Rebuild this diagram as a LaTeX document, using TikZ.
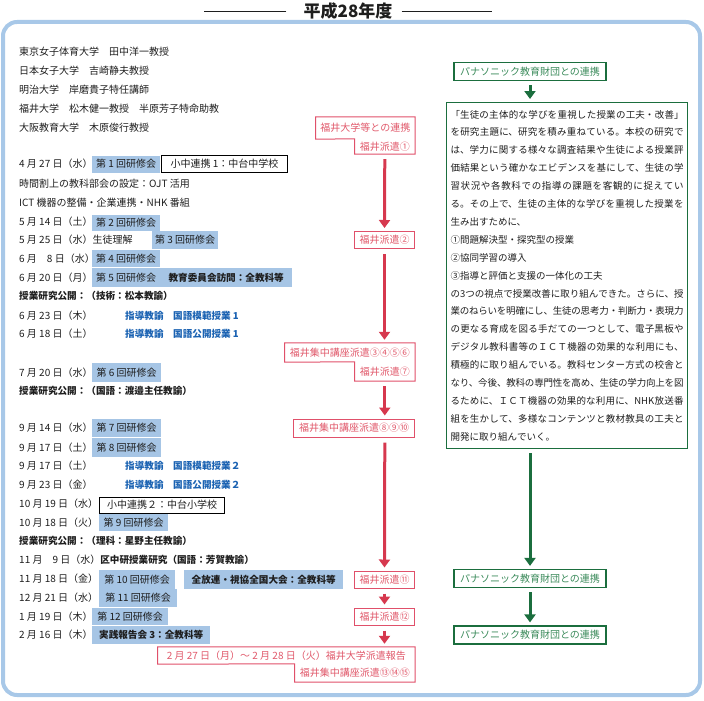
\documentclass[tikz,border=0pt]{standalone}
\usepackage{fontspec}
\setmainfont{Noto Sans CJK JP}
\usetikzlibrary{arrows.meta}

\definecolor{wakuao}{HTML}{A8C8E8}
\definecolor{hlao}{HTML}{A6C5E5}
\definecolor{akasen}{HTML}{E0506A}
\definecolor{akaji}{HTML}{E0586A}
\definecolor{akaya}{HTML}{D6384E}
\definecolor{midori}{HTML}{1B6E3E}
\definecolor{midoriji}{HTML}{3A8A5A}
\definecolor{aoji}{HTML}{1A62B2}
\definecolor{sumi}{HTML}{1E1E1E}

\newcommand\jpjust{\XeTeXlinebreaklocale "ja"\XeTeXlinebreakskip=0pt plus 1pt minus 0.5pt\relax}

\tikzset{
  futsu/.style={font=\fontsize{10}{11}\selectfont},
  futoji/.style={font=\fontsize{9.6}{11}\selectfont\bfseries},
  txt/.style={futsu, anchor=west, inner sep=0pt, text=sumi},
  futo/.style={txt, futoji},
  ao/.style={txt, futoji, text=aoji},
  hl/.style 2 args={futsu, anchor=west, fill=hlao, text=sumi, inner sep=0pt,
    minimum width=#1, minimum height=#2},
  shiro/.style 2 args={futsu, anchor=west, draw=black, line width=1pt, fill=white,
    text=sumi, inner sep=0pt, minimum width=#1, minimum height=#2},
  raka/.style={futsu, anchor=east, inner sep=0pt, text=akaji},
  rwaku/.style={raka, draw=akasen, line width=1pt},
  gwaku/.style={font=\fontsize{10}{11}\selectfont, draw=midori, line width=1.2pt,
    text=midoriji, inner sep=0pt, minimum width=152, minimum height=18},
  rya/.style={akaya, line width=3pt, -{Triangle[width=11pt,length=8pt]},
    shorten <=5pt, shorten >=3pt},
  gya/.style={midori, line width=3pt, -{Triangle[width=11pt,length=8pt]},
    shorten <=4pt, shorten >=3pt}
}

\begin{document}
\begin{tikzpicture}[x=1pt, y=-1pt]
  \useasboundingbox (0,0) rectangle (704,701);
  \draw[wakuao, line width=4pt, rounded corners=14pt] (3,22) rectangle (700,695);

  % title
  \node[inner sep=0pt, text=sumi, font=\fontsize{17}{20}\selectfont\bfseries] (nendo) at (348,11) {平成28年度};
  \draw[sumi, line width=0.7pt] ([xshift=-17pt]nendo.west) -- ++(-82,0);
  \draw[sumi, line width=0.7pt] ([xshift=9pt]nendo.east) -- ++(90,0);

  % left column
  \node[txt] (daigaku1) at (19,52) {東京女子体育大学　田中洋一教授};
  \node[txt] (daigaku2) at (19,71) {日本女子大学　吉崎静夫教授};
  \node[txt] (daigaku3) at (19,90) {明治大学　岸磨貴子特任講師};
  \node[txt] (daigaku4) at (19,109) {福井大学　松木健一教授　半原芳子特命助教};
  \node[txt] (daigaku5) at (19,128) {大阪教育大学　木原俊行教授};

  \node[txt] (hi01) at (19,164) {4 月 27 日（水）};
  \node[hl={68}{17}] (ken1) at (92,164) {第 1 回研修会};
  \node[shiro={126}{17}] (renkei1) at (161,164) {小中連携 1：中台中学校};
  \node[txt] (hi02) at (19,184) {時間割上の教科部会の設定：OJT 活用};
  \node[txt] (hi03) at (19,203) {ICT 機器の整備・企業連携・NHK 番組};
  \node[txt] (hi04) at (19,222) {5 月 14 日（土）};
  \node[hl={68}{16}] (ken2) at (92,223) {第 2 回研修会};
  \node[txt] (hi05) at (19,240) {5 月 25 日（水）生徒理解};
  \node[hl={66}{18}] (ken3) at (152,240) {第 3 回研修会};
  \node[txt] (hi06) at (19,258.5) {6 月　8 日（水）};
  \node[hl={68}{17}] (ken4) at (92,258.5) {第 4 回研修会};
  \node[txt] (hi07) at (19,277.5) {6 月 20 日（月）};
  \node[hl={68}{19}] (ken5) at (92,277.5) {第 5 回研修会};
  \node[hl={132}{19}, futoji] (houmon) at (160,277.5) {教育委員会訪問：全教科等};
  \node[futo] (koukai1) at (19,296) {授業研究公開：（技術：松本教諭）};
  \node[txt] (hi08) at (19,316) {6 月 23 日（木）};
  \node[ao] (shido1) at (125,316) {指導教諭　国語模範授業 1};
  \node[txt] (hi09) at (19,334) {6 月 18 日（土）};
  \node[ao] (shido2) at (125,334) {指導教諭　国語公開授業 1};
  \node[txt] (hi10) at (19,372.5) {7 月 20 日（水）};
  \node[hl={69}{19}] (ken6) at (92,372.5) {第 6 回研修会};
  \node[futo] (koukai2) at (19,391) {授業研究公開：（国語：渡邉主任教諭）};
  \node[txt] (hi11) at (19,428) {9 月 14 日（水）};
  \node[hl={69}{18}] (ken7) at (92,428) {第 7 回研修会};
  \node[txt] (hi12) at (19,447.5) {9 月 17 日（土）};
  \node[hl={69}{19}] (ken8) at (92,447.5) {第 8 回研修会};
  \node[txt] (hi13) at (19,466) {9 月 17 日（土）};
  \node[ao] (shido3) at (125,466) {指導教諭　国語模範授業２};
  \node[txt] (hi14) at (19,484.5) {9 月 23 日（金）};
  \node[ao] (shido4) at (125,484.5) {指導教諭　国語公開授業２};
  \node[txt] (hi15) at (19,504) {10 月 19 日（水）};
  \node[shiro={125}{16}] (renkei2) at (99,505) {小中連携２：中台小学校};
  \node[txt] (hi16) at (19,522.5) {10 月 18 日（火）};
  \node[hl={69}{17}] (ken9) at (99,522.5) {第 9 回研修会};
  \node[futo] (koukai3) at (19,541) {授業研究公開：（理科：星野主任教諭）};
  \node[txt] (hi17) at (19,559.5) {11 月　9 日（水）\textbf{\fontsize{9.6}{11}\selectfont 区中研授業研究（国語：芳賀教諭）}};
  \node[txt] (hi18) at (19,579) {11 月 18 日（金）};
  \node[hl={76}{19}] (ken10) at (99,579.5) {第 10 回研修会};
  \node[hl={159}{19}, futoji] (zenpo) at (184,579.5) {全放連・視協全国大会：全教科等};
  \node[txt] (hi19) at (19,598) {12 月 21 日（水）};
  \node[hl={78}{18}] (ken11) at (99,598) {第 11 回研修会};
  \node[txt] (hi20) at (19,616.5) {1 月 19 日（木）};
  \node[hl={76}{17}] (ken12) at (92,616.5) {第 12 回研修会};
  \node[txt] (hi21) at (19,635) {2 月 16 日（木）};
  \node[hl={118}{18}, futoji] (houkoku) at (92,635) {実践報告会 3：全教科等};

  % Fukui column
  \node[raka, minimum width=99, minimum height=22] (renkeiA) at (415,128) {福井大学等との連携};
  \node[raka, minimum width=60, minimum height=15] (haken1) at (415,146.5) {福井派遣①};
  \draw[akasen, line width=1pt] (renkeiA.north west) -- (renkeiA.north east) -- (haken1.south east)
    -- (haken1.south west) -- (haken1.north west) -- (renkeiA.south west) -- cycle;
  \node[rwaku, minimum width=60, minimum height=17] (haken2) at (415,240) {福井派遣②};
  \node[raka, minimum width=130, minimum height=19] (haken3) at (415,352.5) {福井集中講座派遣③④⑤⑥};
  \node[raka, minimum width=60, minimum height=19] (haken7) at (415,371.5) {福井派遣⑦};
  \draw[akasen, line width=1pt] (haken3.north west) -- (haken3.north east) -- (haken7.south east)
    -- (haken7.south west) -- (haken7.north west) -- (haken3.south west) -- cycle;
  \node[rwaku, minimum width=121, minimum height=18] (haken8) at (415,428) {福井集中講座派遣⑧⑨⑩};
  \node[rwaku, minimum width=60, minimum height=17] (haken11) at (415,579.5) {福井派遣⑪};
  \node[rwaku, minimum width=60, minimum height=17] (haken12) at (415,616.5) {福井派遣⑫};
  \node[raka, minimum width=257, minimum height=17] (houkokuF) at (415,655.5) {2 月 27 日（月）～ 2 月 28 日（火）福井大学派遣報告};
  \node[raka, minimum width=120, minimum height=18] (haken13) at (415,673) {福井集中講座派遣⑬⑭⑮};
  \draw[akasen, line width=1pt] (houkokuF.north west) -- (houkokuF.north east) -- (haken13.south east)
    -- (haken13.south west) -- (haken13.north west) -- (houkokuF.south west) -- cycle;

  \draw[rya] (haken1.south) -- (haken2.north);
  \draw[rya] (haken2.south) -- (haken2.south |- haken3.north);
  \draw[rya] (haken7.south) -- (haken7.south |- haken8.north);
  \draw[rya] (haken8.south -| haken7.south) -- (haken11.north);
  \draw[rya] (haken11.south) -- (haken12.north);
  \draw[rya] (haken12.south) -- (haken12.south |- houkokuF.north);

  % Panasonic column
  \node[gwaku] (pana1) at (530,71.5) {パナソニック教育財団との連携};
  \node[draw=midori, line width=1pt, anchor=north west, inner xsep=4pt, inner ysep=0pt,
    text width=233pt, minimum height=346pt, align=justify, text=sumi,
    font=\fontsize{9.5}{17.9}\selectfont\jpjust] (honbun) at (446,102) {%
「生徒の主体的な学びを重視した授業の工夫・改善」\linebreak
を研究主題に、研究を積み重ねている。本校の研究で\linebreak
は、学力に関する様々な調査結果や生徒による授業評\linebreak
価結果という確かなエビデンスを基にして、生徒の学\linebreak
習状況や各教科での指導の課題を客観的に捉えてい\linebreak
る。その上で、生徒の主体的な学びを重視した授業を\linebreak
生み出すために、\\
①問題解決型・探究型の授業\\
②協同学習の導入\\
③指導と評価と支援の一体化の工夫\\
の3つの視点で授業改善に取り組んできた。さらに、授\linebreak
業のねらいを明確にし、生徒の思考力・判断力・表現力\linebreak
の更なる育成を図る手だての一つとして、電子黒板や\linebreak
デジタル教科書等のＩＣＴ機器の効果的な利用にも、\linebreak
積極的に取り組んでいる。教科センター方式の校舎と\linebreak
なり、今後、教科の専門性を高め、生徒の学力向上を図\linebreak
るために、ＩＣＴ機器の効果的な利用に、NHK放送番\linebreak
組を生かして、多様なコンテンツと教材教具の工夫と\linebreak
開発に取り組んでいく。};
  \node[gwaku] (pana2) at (530,578.5) {パナソニック教育財団との連携};
  \node[gwaku] (pana3) at (530,635) {パナソニック教育財団との連携};

  \draw[gya] (pana1.south) -- (pana1.south |- honbun.north);
  \draw[gya] (honbun.south -| pana2.north) -- (pana2.north);
  \draw[gya] (pana2.south) -- (pana3.north);
\end{tikzpicture}
\end{document}
